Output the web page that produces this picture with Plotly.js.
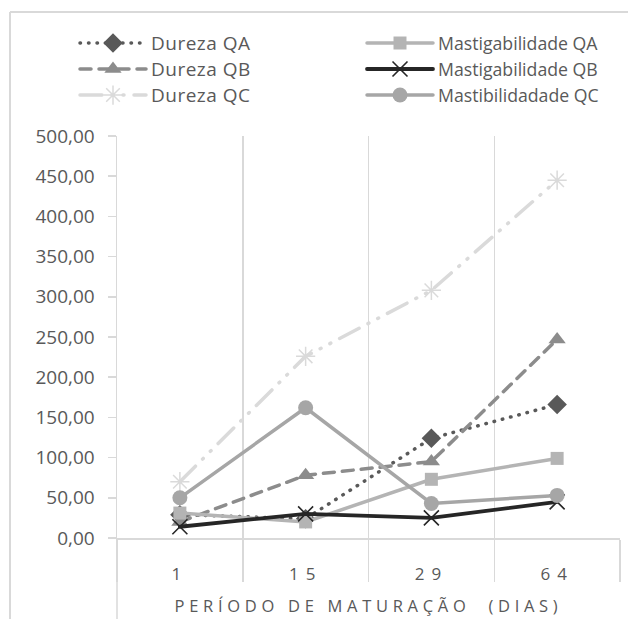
<!DOCTYPE html>
<html>
<head>
<meta charset="utf-8">
<script src="https://cdn.plot.ly/plotly-3.0.1.min.js"></script>
<style>
  html, body { margin: 0; padding: 0; background: #fff; }
  #chart { width: 628px; height: 619px; }
  .scatterlayer path.js-line, .legendlines path.js-line { stroke-linecap: round; }
  .xtick text { letter-spacing: 7px; }
  .g-xtitle text { letter-spacing: 4.7px; }
  text.legendtext { font-size: 19px !important; letter-spacing: 0.5px; }
  text.legendtext[data-unformatted^="Mast"] { letter-spacing: 2px !important; }
</style>
</head>
<body>
<div id="chart"></div>
<script>
// Maturation period (days) and texture measurements per cheese batch
const categories = ['1', '15', '29', '64'];
const durezaQA = [29, 24, 124, 166];
const durezaQB = [20, 78, 95, 247];
const durezaQC = [70, 226, 308, 445];
const mastigabilidadeQA = [31, 20, 73, 99];
const mastigabilidadeQB = [14, 30, 25, 45];
const mastibilidadadeQC = [50, 162, 43, 53];
const seriesNames = ['Dureza QA', 'Dureza QB', 'Dureza QC',
  'Mastigabilidade QA', 'Mastigabilidade QB', 'Mastibilidadade QC'];

const FONT = 'Open Sans, sans-serif';
const TEXT = '#595959';
const GRID = '#d9d9d9';

function series(name, y, legendId, line, marker) {
  return {
    type: 'scatter', mode: 'lines+markers', name: name,
    x: categories, y: y, legend: legendId,
    line: line, marker: marker, hoverinfo: 'x+y+name'
  };
}

const traces = [
  series(seriesNames[0], durezaQA, 'legend',
    {color: '#595959', width: 3.5, dash: '0.5px,8px'},
    {symbol: 'diamond', size: 15, color: '#595959'}),
  series(seriesNames[1], durezaQB, 'legend',
    {color: '#8c8c8c', width: 3.5, dash: '11px,8px'},
    {symbol: 'triangle-up', size: 15, color: '#8c8c8c'}),
  series(seriesNames[2], durezaQC, 'legend',
    {color: '#dadada', width: 3.5, dash: '22px,10px,1px,10px,1px,10px'},
    {symbol: 'asterisk-open', size: 16, color: '#dadada', line: {color: '#dadada', width: 1.5}}),
  series(seriesNames[3], mastigabilidadeQA, 'legend2',
    {color: '#b4b4b4', width: 3.5},
    {symbol: 'square', size: 13, color: '#b4b4b4'}),
  series(seriesNames[4], mastigabilidadeQB, 'legend2',
    {color: '#262626', width: 3.8},
    {symbol: 'x-thin-open', size: 15, color: '#262626', line: {color: '#262626', width: 1.6}}),
  series(seriesNames[5], mastibilidadadeQC, 'legend2',
    {color: '#a6a6a6', width: 3.5},
    {symbol: 'circle', size: 15, color: '#a6a6a6'})
];

// plot area: x 117..620, y 136..538 (px)
const W = 628, H = 619, L = 117, R = 8, T = 136, B = 81;
const pw = W - L - R, ph = H - T - B;
const px = v => (v - L) / pw;
const py = v => (H - B - v) / ph;

const legendBase = {
  orientation: 'v', xanchor: 'left', yanchor: 'top', y: py(25),
  itemwidth: 66, traceorder: 'normal',
  font: {family: FONT, size: 17.7, color: TEXT},
  bgcolor: 'rgba(0,0,0,0)', borderwidth: 0
};

const layout = {
  width: W, height: H,
  margin: {l: L, r: R, t: T, b: B, pad: 0, autoexpand: false},
  paper_bgcolor: '#ffffff', plot_bgcolor: '#ffffff',
  font: {family: FONT, color: TEXT, size: 17},
  separators: ',.',
  showlegend: true,
  legend: Object.assign({}, legendBase, {x: px(75)}),
  legend2: Object.assign({}, legendBase, {x: px(362)}),
  xaxis: {
    type: 'category', tickson: 'boundaries', range: [-0.5, 3.5],
    showline: true, linecolor: GRID, linewidth: 1.5,
    showgrid: true, gridcolor: GRID, gridwidth: 1.5,
    ticks: 'outside', ticklen: 42, tickcolor: GRID, tickwidth: 1.5,
    ticklabelstandoff: 20,
    tickfont: {family: FONT, size: 17, color: TEXT},
    title: {text: 'PERÍODO DE MATURAÇÃO  (DIAS)', standoff: 16,
      font: {family: FONT, size: 16.5, color: TEXT}},
    zeroline: false, fixedrange: true
  },
  yaxis: {
    range: [0, 500], dtick: 50, tickformat: '.2f',
    showline: true, linecolor: GRID, linewidth: 1.5,
    showgrid: false, zeroline: false,
    ticks: 'outside', ticklen: 8, tickcolor: GRID, tickwidth: 1.5,
    ticklabelstandoff: 9,
    tickfont: {family: FONT, size: 19, color: TEXT},
    fixedrange: true
  },
  shapes: [
    // chart frame edges
    {type: 'line', xref: 'paper', yref: 'paper', x0: px(10), x1: px(640), y0: py(12), y1: py(12),
      line: {color: GRID, width: 2}},
    {type: 'line', xref: 'paper', yref: 'paper', x0: px(10), x1: px(10), y0: py(12), y1: py(640),
      line: {color: GRID, width: 2}},
    // value axis continues down past the category labels
    {type: 'line', xref: 'paper', yref: 'paper', x0: 0, x1: 0, y0: 0, y1: py(640),
      line: {color: GRID, width: 1.5}}
  ]
};

Plotly.newPlot('chart', traces, layout, {displayModeBar: false, staticPlot: true});
</script>
</body>
</html>
